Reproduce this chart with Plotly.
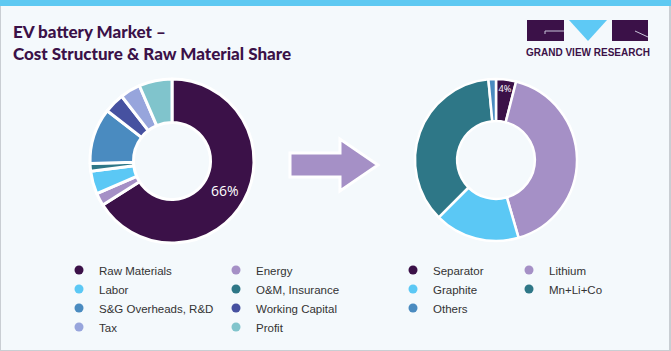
import plotly.graph_objects as go

# ---------------- data ----------------
cost_labels = ["Raw Materials", "Energy", "Labor", "O&M, Insurance",
               "S&G Overheads, R&D", "Working Capital", "Tax", "Profit"]
cost_values = [66, 2.5, 4.5, 1.5, 11, 4, 4, 6.5]
cost_colors = ["#3b1148", "#a590c6", "#5bc8f5", "#2e7787",
               "#4a8bc0", "#4651a0", "#97a5dc", "#80c4cc"]

mat_labels = ["Separator", "Lithium", "Graphite", "Mn+Li+Co", "Others"]
mat_values = [4, 41.5, 17, 36, 1.5]
mat_colors = ["#3b1148", "#a590c6", "#5bc8f5", "#2e7787", "#4a8bc0"]

title_lines = ["EV battery Market –", "Cost Structure & Raw Material Share"]
brand = "GRAND VIEW RESEARCH"

W, H = 671, 351
BG = "#f4f9fc"
DARK = "#3b1148"


def px(x):
    return x / W


def py(y):
    return 1 - y / H


def first_label(values):
    tot = sum(values)
    return [f"{v / tot * 100:.0f}%" if i == 0 else "" for i, v in enumerate(values)]


fig = go.Figure()

# left donut: cost structure (centre ~ (172,161), radius ~82)
fig.add_trace(go.Pie(
    labels=cost_labels, values=cost_values, text=first_label(cost_values),
    textinfo="text", textposition="inside", insidetextorientation="horizontal",
    textfont=dict(family="Open Sans", size=14, color="white"),
    marker=dict(colors=cost_colors, line=dict(color="white", width=3)),
    hole=0.47, sort=False, direction="clockwise", rotation=0,
    domain=dict(x=[px(90), px(254)], y=[py(243), py(79)]),
    showlegend=False, hoverinfo="label+percent",
))

# right donut: raw material share (centre ~ (496,160), radius ~81)
fig.add_trace(go.Pie(
    labels=mat_labels, values=mat_values, text=first_label(mat_values),
    textinfo="text", textposition="inside", insidetextorientation="horizontal",
    textfont=dict(family="Open Sans", size=14, color="white"),
    marker=dict(colors=mat_colors, line=dict(color="white", width=2.5)),
    hole=0.48, sort=False, direction="clockwise", rotation=0,
    domain=dict(x=[px(415), px(577)], y=[py(241), py(79)]),
    showlegend=False, hoverinfo="label+percent",
))

# legend entries (circle markers), two columns per donut
legend_ids = ["legend", "legend2"]
for i, (lab, col) in enumerate(zip(cost_labels, cost_colors)):
    fig.add_trace(go.Scatter(x=[None], y=[None], mode="markers", name=lab,
                             marker=dict(color=col, size=9),
                             legend=legend_ids[i % 2], hoverinfo="skip"))
legend_ids_r = ["legend3", "legend4"]
for i, (lab, col) in enumerate(zip(mat_labels, mat_colors)):
    fig.add_trace(go.Scatter(x=[None], y=[None], mode="markers", name=lab,
                             marker=dict(color=col, size=9),
                             legend=legend_ids_r[i % 2], hoverinfo="skip"))

leg_font = dict(family="Liberation Sans", size=11.5, color="#333333")
leg_common = dict(orientation="v", xanchor="left", yanchor="top",
                  bgcolor="rgba(0,0,0,0)", font=leg_font, itemclick=False,
                  itemdoubleclick=False, y=py(255.5))

shapes = [
    # card border
    dict(type="rect", xref="paper", yref="paper", x0=0, y0=0, x1=px(670), y1=py(0),
         line=dict(color="#c9ced3", width=2), fillcolor="rgba(0,0,0,0)", layer="below"),
    # top accent bar
    dict(type="rect", xref="paper", yref="paper", x0=0, x1=1, y0=py(6), y1=1,
         line=dict(width=0), fillcolor="#5ec9f2", layer="above"),
    # arrow between donuts
    dict(type="path", xref="paper", yref="paper",
         path=("M {} {} L {} {} L {} {} L {} {} L {} {} L {} {} L {} {} Z").format(
             px(290), py(153), px(340), py(153), px(340), py(139), px(378), py(165),
             px(340), py(191), px(340), py(177), px(290), py(177)),
         fillcolor="#a590c6", line=dict(color="white", width=3)),
    # logo blocks
    dict(type="rect", xref="paper", yref="paper", x0=px(527), x1=px(564), y0=py(41), y1=py(20),
         fillcolor=DARK, line=dict(width=0)),
    dict(type="path", xref="paper", yref="paper",
         path="M {} {} L {} {} L {} {} Z".format(px(569), py(20), px(607), py(20), px(588), py(41)),
         fillcolor="#5ec9f5", line=dict(width=0)),
    dict(type="rect", xref="paper", yref="paper", x0=px(612), x1=px(648), y0=py(41), y1=py(20),
         fillcolor=DARK, line=dict(width=0)),
    dict(type="path", xref="paper", yref="paper",
         path="M {} {} L {} {} L {} {}".format(px(564), py(31), px(545), py(31), px(545), py(34)),
         line=dict(color="#c8c4d8", width=1)),
    dict(type="path", xref="paper", yref="paper",
         path="M {} {} L {} {}".format(px(635), py(31), px(648), py(37)),
         line=dict(color="#c8c4d8", width=1)),
]

annotations = [
    dict(text=brand, x=px(588), y=py(52), xref="paper", yref="paper",
         xanchor="center", yanchor="middle", showarrow=False,
         font=dict(family="Liberation Sans", size=10, color=DARK, weight="bold")),
]

fig.update_layout(
    width=W, height=H, autosize=False,
    margin=dict(l=0, r=0, t=0, b=0, pad=0),
    paper_bgcolor=BG, plot_bgcolor="rgba(0,0,0,0)",
    xaxis=dict(visible=False), yaxis=dict(visible=False),
    title=dict(text="<br>".join(title_lines), x=px(13), xref="container", xanchor="left",
               y=py(38), yref="container", yanchor="top",
               font=dict(family="Lato", size=17, color=DARK, weight=900)),
    legend=dict(x=px(59), **leg_common),
    legend2=dict(x=px(216), **leg_common),
    legend3=dict(x=px(393), **leg_common),
    legend4=dict(x=px(509), **leg_common),
    shapes=shapes, annotations=annotations,
)

fig.write_html("out.html")
